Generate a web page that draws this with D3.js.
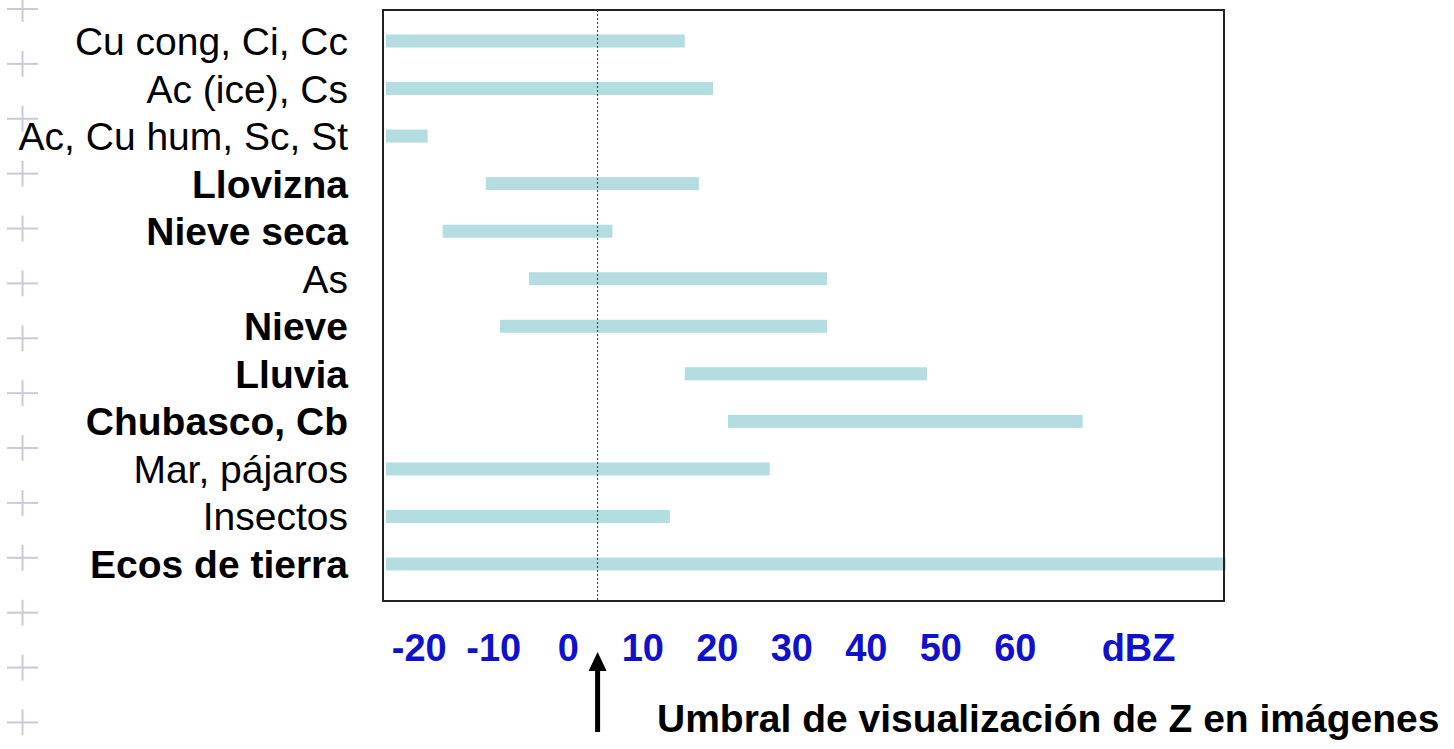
<!DOCTYPE html>
<html>
<head>
<meta charset="utf-8">
<script src="https://cdn.jsdelivr.net/npm/d3@7"></script>
<style>
  html, body { margin: 0; padding: 0; background: #fff; }
  svg { display: block; }
</style>
</head>
<body>
<svg id="chart" width="1454" height="749"></svg>
<script>
// ---- data ----
const categories = ["Cu cong, Ci, Cc", "Ac (ice), Cs", "Ac, Cu hum, Sc, St", "Llovizna", "Nieve seca", "As",
                    "Nieve", "Lluvia", "Chubasco, Cb", "Mar, pájaros", "Insectos", "Ecos de tierra"];
const minDBZ = [-24.4, -24.4, -24.4, -11.0, -16.8, -5.2, -9.1, 15.7, 21.5, -24.4, -24.4, -24.4];
const maxDBZ = [15.7, 19.5, -18.8, 17.6, 6.0, 34.8, 34.8, 48.2, 69.1, 27.1, 13.7, 88.3];
const tickValues = [-20, -10, 0, 10, 20, 30, 40, 50, 60];
const tickLabels = ["-20", "-10", "0", "10", "20", "30", "40", "50", "60"];
const unitLabel = "dBZ";
const unitValue = 76.6;
const threshold = 4;
const thresholdText = "Umbral de visualización de Z en imágenes";
const boldLabels = new Set(["Llovizna", "Nieve seca", "Nieve", "Lluvia", "Chubasco, Cb", "Ecos de tierra"]);

// ---- layout ----
const svg = d3.select("#chart");
const W = 1454, H = 749;
const plot = { left: 383, right: 1224, top: 10, bottom: 601 };
const font = "'Liberation Sans', Arial, Helvetica, sans-serif";

const x = d3.scaleLinear().domain([-24.8, 88.2]).range([plot.left, plot.right + 1]);
const y = d3.scalePoint().domain(categories).range([41, 564]);

svg.append("rect").attr("width", W).attr("height", H).attr("fill", "#fff");

// decorative slide bullets on the left
const bullets = d3.range(14);
const bg = svg.append("g").attr("stroke", "#c9c9d9").attr("stroke-width", 2);
bullets.forEach(i => {
  const cy = 9 + 54.88 * i;
  bg.append("line").attr("x1", 7).attr("x2", 38).attr("y1", cy).attr("y2", cy);
  bg.append("line").attr("x1", 22.5).attr("x2", 22.5).attr("y1", cy - 13).attr("y2", cy + 13);
});

// bars
const data = categories.map((c, i) => ({ c, lo: minDBZ[i], hi: maxDBZ[i] }));
svg.append("g").selectAll("rect").data(data).join("rect")
  .attr("x", d => x(d.lo))
  .attr("width", d => x(d.hi) - x(d.lo))
  .attr("y", d => y(d.c) - 6.5)
  .attr("height", 13)
  .attr("fill", "#b3dde1");

// threshold dotted line
svg.append("line")
  .attr("x1", x(threshold)).attr("x2", x(threshold))
  .attr("y1", plot.top).attr("y2", plot.bottom)
  .attr("stroke", "#333").attr("stroke-width", 1)
  .attr("stroke-dasharray", "2,2");

// frame
svg.append("rect")
  .attr("x", plot.left).attr("y", plot.top)
  .attr("width", plot.right - plot.left).attr("height", plot.bottom - plot.top)
  .attr("fill", "none").attr("stroke", "#222").attr("stroke-width", 2);

// category labels
svg.append("g").selectAll("text").data(categories).join("text")
  .attr("x", 348)
  .attr("y", d => y(d) + 14)
  .attr("text-anchor", "end")
  .attr("font-family", font)
  .attr("font-size", 39)
  .attr("font-weight", d => boldLabels.has(d) ? "bold" : "normal")
  .attr("fill", "#000")
  .text(d => d);

// x axis tick labels (no axis line, blue bold)
const axis = d3.axisBottom(x).tickValues(tickValues).tickFormat((d, i) => tickLabels[i]).tickSize(0).tickPadding(0);
const ax = svg.append("g").attr("transform", `translate(0,${plot.bottom})`).call(axis);
ax.select(".domain").remove();
ax.selectAll("text")
  .attr("y", 60).attr("dy", 0)
  .attr("font-family", font).attr("font-size", 38).attr("font-weight", "bold")
  .attr("fill", "#1111cc");

svg.append("text")
  .attr("x", x(unitValue)).attr("y", plot.bottom + 60)
  .attr("text-anchor", "middle")
  .attr("font-family", font).attr("font-size", 38).attr("font-weight", "bold")
  .attr("fill", "#1111cc")
  .text(unitLabel);

// arrow
const ax0 = x(threshold);
svg.append("line")
  .attr("x1", ax0).attr("x2", ax0).attr("y1", 732).attr("y2", 668)
  .attr("stroke", "#000").attr("stroke-width", 5);
svg.append("path")
  .attr("d", `M${ax0},652 L${ax0 - 9},671 L${ax0 + 9},671 Z`)
  .attr("fill", "#000");

// threshold caption
svg.append("text")
  .attr("x", 657).attr("y", 732)
  .attr("font-family", font).attr("font-size", 39).attr("font-weight", "bold")
  .attr("fill", "#000")
  .text(thresholdText);
</script>
</body>
</html>
